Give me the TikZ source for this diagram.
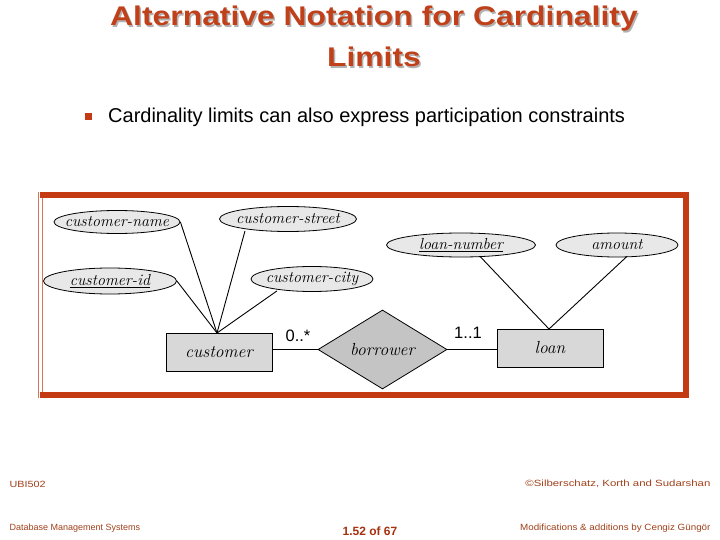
\documentclass[tikz,border=0pt]{standalone}
\usepackage{fontspec}
\usepackage{graphicx}
\setmainfont{Liberation Sans}
\newfontfamily\erfont{Latin Modern Roman}
\usetikzlibrary{shapes.geometric}
\definecolor{slidered}{HTML}{C43A12}
\definecolor{titlered}{HTML}{C0401A}
\definecolor{footred}{HTML}{A0401A}
\definecolor{ellfill}{HTML}{E8E8E8}
\definecolor{rectfill}{HTML}{D8D8D8}
\definecolor{diafill}{HTML}{C4C4C4}
\tikzset{
  attr/.style={ellipse, draw=black, fill=ellfill, line width=0.8pt, inner sep=0pt},
  attrtext/.style={inner sep=0pt, font=\erfont\itshape\fontsize{16}{16}\selectfont},
  entity/.style={rectangle, draw=black, fill=rectfill, line width=0.8pt, font=\erfont\itshape\fontsize{17.5}{17.5}\selectfont},
  rel/.style={diamond, draw=black, fill=diafill, line width=0.8pt, inner sep=0pt, font=\erfont\itshape\fontsize{17.5}{17.5}\selectfont},
  link/.style={draw=black, line width=0.9pt},
  card/.style={font=\fontsize{16.5}{16.5}\selectfont},
  foot/.style={text=footred, font=\fontsize{9}{9}\selectfont},
  ttl/.style={font=\bfseries\fontsize{27}{27}\selectfont},
}
\begin{document}
\begin{tikzpicture}[x=1pt,y=-1pt]
\useasboundingbox (0,0) rectangle (720,540);
% title
\foreach \dx/\c in {1.5/gray!60, 0/titlered}{
  \node[text=\c, ttl] at (374+\dx,19+\dx) {\scalebox{1.18}[1]{Alternative Notation for Cardinality}};
  \node[text=\c, ttl] at (374+\dx,57+\dx) {\scalebox{1.18}[1]{Limits}};
}
\node[fill=slidered, minimum size=7pt, inner sep=0pt] (bul) at (88,117) {};
\node[anchor=west, font=\fontsize{20}{20}\selectfont, inner sep=0pt] (btxt) at (108,117) {Cardinality limits can also express participation constraints};
% frame
\draw[slidered, line width=6pt] (689,195) -- (40,195);
\draw[slidered, line width=6pt] (40,395) -- (689,395);
\draw[slidered, line width=6pt] (686,192) -- (686,398);
\draw[slidered!70, line width=1pt] (38.5,192) -- (38.5,398);
\draw[slidered!70, line width=1pt] (42,198) -- (42,392);
% nodes
\node[attr, minimum width=126pt, minimum height=23pt] (cname) at (117,222) {};
\node[attrtext] (tcname) at (cname.center) {customer-name};
\node[attr, minimum width=137pt, minimum height=25pt] (cstreet) at (288,219) {};
\node[attrtext] (tcstreet) at (cstreet.center) {customer-street};
\node[attr, minimum width=133pt, minimum height=26pt] (cid) at (110,281) {};
\node[attrtext] (tcid) at (cid.center) {\underline{customer-id}};
\node[attr, minimum width=122pt, minimum height=25pt] (ccity) at (312,279) {};
\node[attrtext] (tccity) at (ccity.center) {customer-city};
\node[attr, minimum width=149pt, minimum height=24pt] (lnum) at (461,245) {};
\node[attrtext] (tlnum) at (lnum.center) {\underline{loan-number}};
\node[attr, minimum width=122pt, minimum height=24pt] (amount) at (617,245) {};
\node[attrtext] (tamount) at (amount.center) {amount};
\node[entity, minimum width=106pt, minimum height=38pt] (cust) at (219,352) {customer};
\node[entity, minimum width=106pt, minimum height=38pt] (loan) at (550,348) {loan};
\node[rel, minimum width=129pt, minimum height=79pt] (borr) at (382.5,349.5) {borrower};
\coordinate (cjoin) at (217,333);
\coordinate (ljoin) at (549,329);
% connectors
\draw[link] (cname.east) -- (cjoin);
\draw[link] (cstreet.south) ++(-43,-1) -- (cjoin);
\draw[link] (cid.east) -- (cjoin);
\draw[link] (ccity.south) ++(-35,-1) -- (cjoin);
\draw[link] (lnum.south) ++(19,-1) -- (ljoin);
\draw[link] (amount.south) ++(10,-1) -- (ljoin);
\draw[link] (cust.east |- borr.west) -- (borr.west);
\draw[link] (borr.east) -- (loan.west |- borr.east);
\node[card] (c1) at (298,336) {0..*};
\node[card] (c2) at (468,333) {1..1};
% footer
\node[foot, anchor=west] (f1) at (6,484) {\scalebox{1.2}[1]{UBI502}};
\node[foot, anchor=west] (f2) at (6,528) {Database Management Systems};
\node[text=slidered!85!black, font=\bfseries\fontsize{12}{12}\selectfont] (f3) at (370,531) {1.52 of 67};
\node[foot, anchor=east] (f4) at (714,484) {\scalebox{1.27}[1]{©Silberschatz, Korth and Sudarshan}};
\node[foot, anchor=east] (f5) at (714,528) {\scalebox{1.09}[1]{Modifications \& additions by Cengiz Güngör}};
\end{tikzpicture}
\end{document}
